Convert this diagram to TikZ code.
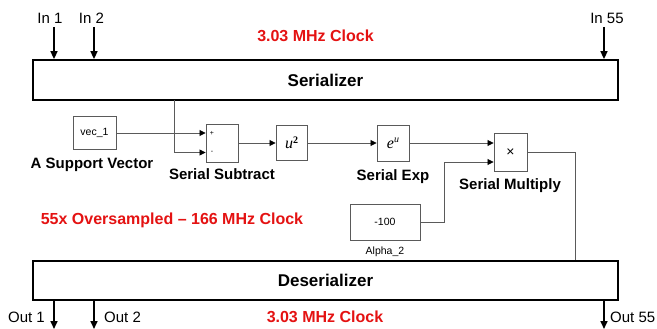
\documentclass[tikz,border=0pt]{standalone}
\usepackage{fontspec}
\setmainfont{Liberation Sans}
\newfontfamily\tnr{Liberation Serif}
\usetikzlibrary{arrows.meta}
\definecolor{clk}{RGB}{228,18,18}
\definecolor{wire}{RGB}{90,90,90}
\tikzset{
  bigbox/.style={draw=black,line width=1.8pt,fill=white,minimum width=585pt,inner sep=0pt,font=\fontsize{17}{20}\selectfont\bfseries},
  blk/.style={draw=wire,line width=0.9pt,fill=white,inner sep=0pt,font=\fontsize{10.5}{12}\selectfont},
  lbl/.style={inner sep=0pt,font=\fontsize{15}{18}\selectfont\bfseries},
  iolbl/.style={inner sep=0pt,font=\fontsize{15}{18}\selectfont},
  small/.style={inner sep=0pt,font=\fontsize{10.5}{12}\selectfont},
  red/.style={inner sep=0pt,text=clk,font=\fontsize{16}{19}\selectfont\bfseries},
  ioarrow/.style={line width=1.6pt,-{Triangle[length=8pt,width=7pt]}},
  sig/.style={draw=wire,line width=0.8pt,-{Triangle[length=6pt,width=6pt,color=black]}},
  plain/.style={draw=wire,line width=0.8pt}
}
\begin{document}
\begin{tikzpicture}[x=1pt,y=-1pt]
\useasboundingbox (0,0) rectangle (657,329);
% big boxes
\node[bigbox,minimum height=40pt] (ser) at (325.5,80) {Serializer};
\node[bigbox,minimum height=39pt] (des) at (325.5,280.5) {Deserializer};
% inputs
\node[iolbl] (in1) at (50,18) {In 1};
\node[iolbl] (in2) at (91.5,18) {In 2};
\node[iolbl] (in55) at (607,18) {In 55};
\coordinate (a1) at (54,27);
\coordinate (a2) at (94,27);
\coordinate (a55) at (604,27);
\draw[ioarrow] (a1) -- (a1 |- ser.north);
\draw[ioarrow] (a2) -- (a2 |- ser.north);
\draw[ioarrow] (a55) -- (a55 |- ser.north);
% outputs
\coordinate (b1) at (54,329);
\coordinate (b2) at (94,329);
\coordinate (b55) at (604,329);
\draw[ioarrow] (b1 |- des.south) -- (b1);
\draw[ioarrow] (b2 |- des.south) -- (b2);
\draw[ioarrow] (b55 |- des.south) -- (b55);
\node[iolbl,anchor=east] (out1) at (45,317) {Out 1};
\node[iolbl,anchor=west] (out2) at (104,317) {Out 2};
\node[iolbl,anchor=west] (out55) at (610,317) {Out 55};
% clocks
\node[red] (clk1) at (315.5,36) {3.03 MHz Clock};
\node[red] (clk2) at (325,317) {3.03 MHz Clock};
\node[red] (clk3) at (172,220) {55x Oversampled -- 166 MHz Clock};
% blocks
\node[blk,minimum width=43pt,minimum height=33pt] (vec) at (94.5,133) {vec\_1};
\node[blk,minimum width=32pt,minimum height=38pt] (sub) at (222,143) {};
\node[inner sep=0pt,font=\fontsize{7}{8}\selectfont] (plus) at (212,133) {+};
\node[inner sep=0pt,font=\fontsize{7}{8}\selectfont] (minus) at (212,152) {-};
\node[blk,minimum width=31pt,minimum height=35pt] (sq) at (291.5,143) {{\tnr\fontsize{16}{16}\selectfont\itshape u}\raisebox{5pt}{\tnr\fontsize{10}{10}\selectfont\bfseries 2}};
\node[blk,minimum width=32pt,minimum height=36pt] (ex) at (393,143) {{\tnr\fontsize{16}{16}\selectfont\itshape e}\raisebox{6pt}{\tnr\fontsize{10}{10}\selectfont\itshape u}};
\node[blk,minimum width=33pt,minimum height=38pt,font=\fontsize{14}{14}\selectfont] (mul) at (510.5,152.5) {\raisebox{0pt}{×}};
\node[blk,minimum width=70pt,minimum height=36pt] (alpha) at (385,222) {-100};
% labels
\node[lbl] (lvec) at (92,165) {A Support Vector};
\node[lbl] (lsub) at (222,174) {Serial Subtract};
\node[lbl] (lex) at (393,177) {Serial Exp};
\node[lbl] (lmul) at (510,186) {Serial Multiply};
\node[small] (lalpha) at (385,252) {Alpha\_2};
% wires
\draw[sig] (vec.east) -- (vec.east -| sub.west);
\coordinate (br) at (174,100);
\coordinate (brb) at (174,152.5);
\draw[sig] (br) -- (brb) -- (brb -| sub.west);
\draw[sig] (sub.east) -- (sq.west);
\draw[sig] (sq.east) -- (ex.west);
\draw[sig] (ex.east) -- (ex.east -| mul.west);
\coordinate (al) at (444,222);
\coordinate (ah) at (444,162);
\draw[sig] (alpha.east) -- (al) -- (ah) -- (ah -| mul.west);
\coordinate (mo) at (575,152.5);
\draw[plain] (mul.east) -- (mo) -- (mo |- des.north);
\end{tikzpicture}
\end{document}
